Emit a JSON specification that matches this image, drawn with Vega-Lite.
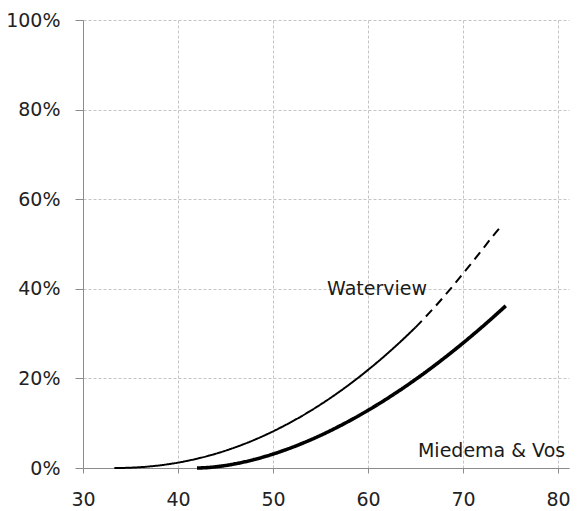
{
  "$schema": "https://vega.github.io/schema/vega-lite/v6.json",
  "autosize": {"type": "none"},
  "padding": {"left": 83, "top": 20, "right": 9, "bottom": 43},
  "width": 486,
  "height": 448,
  "background": "white",
  "config": {
    "view": {"stroke": null},
    "font": "DejaVu Sans"
  },
  "datasets": {
    "curves": [
      {"series": "Waterview", "segment": "solid", "x": 33.3, "y": 0},
      {"series": "Waterview", "segment": "solid", "x": 34, "y": 0.01},
      {"series": "Waterview", "segment": "solid", "x": 35, "y": 0.07},
      {"series": "Waterview", "segment": "solid", "x": 36, "y": 0.18},
      {"series": "Waterview", "segment": "solid", "x": 37, "y": 0.35},
      {"series": "Waterview", "segment": "solid", "x": 38, "y": 0.57},
      {"series": "Waterview", "segment": "solid", "x": 39, "y": 0.86},
      {"series": "Waterview", "segment": "solid", "x": 40, "y": 1.2},
      {"series": "Waterview", "segment": "solid", "x": 41, "y": 1.61},
      {"series": "Waterview", "segment": "solid", "x": 42, "y": 2.08},
      {"series": "Waterview", "segment": "solid", "x": 43, "y": 2.61},
      {"series": "Waterview", "segment": "solid", "x": 44, "y": 3.21},
      {"series": "Waterview", "segment": "solid", "x": 45, "y": 3.87},
      {"series": "Waterview", "segment": "solid", "x": 46, "y": 4.6},
      {"series": "Waterview", "segment": "solid", "x": 47, "y": 5.39},
      {"series": "Waterview", "segment": "solid", "x": 48, "y": 6.25},
      {"series": "Waterview", "segment": "solid", "x": 49, "y": 7.18},
      {"series": "Waterview", "segment": "solid", "x": 50, "y": 8.17},
      {"series": "Waterview", "segment": "solid", "x": 51, "y": 9.24},
      {"series": "Waterview", "segment": "solid", "x": 52, "y": 10.37},
      {"series": "Waterview", "segment": "solid", "x": 53, "y": 11.56},
      {"series": "Waterview", "segment": "solid", "x": 54, "y": 12.83},
      {"series": "Waterview", "segment": "solid", "x": 55, "y": 14.17},
      {"series": "Waterview", "segment": "solid", "x": 56, "y": 15.57},
      {"series": "Waterview", "segment": "solid", "x": 57, "y": 17.05},
      {"series": "Waterview", "segment": "solid", "x": 58, "y": 18.59},
      {"series": "Waterview", "segment": "solid", "x": 59, "y": 20.21},
      {"series": "Waterview", "segment": "solid", "x": 60, "y": 21.9},
      {"series": "Waterview", "segment": "solid", "x": 61, "y": 23.65},
      {"series": "Waterview", "segment": "solid", "x": 62, "y": 25.48},
      {"series": "Waterview", "segment": "solid", "x": 63, "y": 27.38},
      {"series": "Waterview", "segment": "solid", "x": 64, "y": 29.36},
      {"series": "Waterview", "segment": "solid", "x": 65, "y": 31.4},
      {"series": "Waterview", "segment": "dashed", "x": 65, "y": 31.4},
      {"series": "Waterview", "segment": "dashed", "x": 66, "y": 33.6},
      {"series": "Waterview", "segment": "dashed", "x": 67, "y": 35.9},
      {"series": "Waterview", "segment": "dashed", "x": 68, "y": 38.3},
      {"series": "Waterview", "segment": "dashed", "x": 69, "y": 40.8},
      {"series": "Waterview", "segment": "dashed", "x": 70, "y": 43.4},
      {"series": "Waterview", "segment": "dashed", "x": 71, "y": 46.0},
      {"series": "Waterview", "segment": "dashed", "x": 72, "y": 48.7},
      {"series": "Waterview", "segment": "dashed", "x": 73, "y": 51.4},
      {"series": "Waterview", "segment": "dashed", "x": 74.1, "y": 54.2},
      {"series": "Miedema & Vos", "segment": "solid", "x": 42, "y": 0},
      {"series": "Miedema & Vos", "segment": "solid", "x": 43, "y": 0.08},
      {"series": "Miedema & Vos", "segment": "solid", "x": 44, "y": 0.28},
      {"series": "Miedema & Vos", "segment": "solid", "x": 45, "y": 0.56},
      {"series": "Miedema & Vos", "segment": "solid", "x": 46, "y": 0.93},
      {"series": "Miedema & Vos", "segment": "solid", "x": 47, "y": 1.37},
      {"series": "Miedema & Vos", "segment": "solid", "x": 48, "y": 1.88},
      {"series": "Miedema & Vos", "segment": "solid", "x": 49, "y": 2.47},
      {"series": "Miedema & Vos", "segment": "solid", "x": 50, "y": 3.11},
      {"series": "Miedema & Vos", "segment": "solid", "x": 51, "y": 3.83},
      {"series": "Miedema & Vos", "segment": "solid", "x": 52, "y": 4.6},
      {"series": "Miedema & Vos", "segment": "solid", "x": 53, "y": 5.44},
      {"series": "Miedema & Vos", "segment": "solid", "x": 54, "y": 6.33},
      {"series": "Miedema & Vos", "segment": "solid", "x": 55, "y": 7.28},
      {"series": "Miedema & Vos", "segment": "solid", "x": 56, "y": 8.29},
      {"series": "Miedema & Vos", "segment": "solid", "x": 57, "y": 9.36},
      {"series": "Miedema & Vos", "segment": "solid", "x": 58, "y": 10.48},
      {"series": "Miedema & Vos", "segment": "solid", "x": 59, "y": 11.65},
      {"series": "Miedema & Vos", "segment": "solid", "x": 60, "y": 12.88},
      {"series": "Miedema & Vos", "segment": "solid", "x": 61, "y": 14.15},
      {"series": "Miedema & Vos", "segment": "solid", "x": 62, "y": 15.48},
      {"series": "Miedema & Vos", "segment": "solid", "x": 63, "y": 16.86},
      {"series": "Miedema & Vos", "segment": "solid", "x": 64, "y": 18.29},
      {"series": "Miedema & Vos", "segment": "solid", "x": 65, "y": 19.78},
      {"series": "Miedema & Vos", "segment": "solid", "x": 66, "y": 21.3},
      {"series": "Miedema & Vos", "segment": "solid", "x": 67, "y": 22.88},
      {"series": "Miedema & Vos", "segment": "solid", "x": 68, "y": 24.51},
      {"series": "Miedema & Vos", "segment": "solid", "x": 69, "y": 26.18},
      {"series": "Miedema & Vos", "segment": "solid", "x": 70, "y": 27.9},
      {"series": "Miedema & Vos", "segment": "solid", "x": 71, "y": 29.67},
      {"series": "Miedema & Vos", "segment": "solid", "x": 72, "y": 31.48},
      {"series": "Miedema & Vos", "segment": "solid", "x": 73, "y": 33.34},
      {"series": "Miedema & Vos", "segment": "solid", "x": 74, "y": 35.25},
      {"series": "Miedema & Vos", "segment": "solid", "x": 74.5, "y": 36.2}
    ],
    "labels": [
      {"name": "Waterview", "x": 60.95, "y": 38.6},
      {"name": "Miedema & Vos", "x": 73.0, "y": 2.45}
    ]
  },
  "layer": [
    {
      "data": {"name": "curves"},
      "mark": {"type": "line", "color": "black", "strokeCap": "butt", "interpolate": "monotone"},
      "encoding": {
        "x": {
          "field": "x",
          "type": "quantitative",
          "scale": {"domain": [30, 81.15], "nice": false, "zero": false},
          "axis": {
            "title": null,
            "values": [30, 40, 50, 60, 70, 80],
            "grid": true,
            "gridColor": "#c4c4c4",
            "gridDash": [3, 2],
            "gridWidth": 1,
            "domainColor": "#8c8c8c",
            "domainWidth": 1,
            "tickColor": "#8c8c8c",
            "tickSize": 5,
            "labelPadding": 17,
            "labelFont": "DejaVu Sans",
            "labelFontSize": 19,
            "labelColor": "#222222",
            "labelFlush": false
          }
        },
        "y": {
          "field": "y",
          "type": "quantitative",
          "scale": {"domain": [0, 100], "nice": false},
          "axis": {
            "title": null,
            "values": [0, 20, 40, 60, 80, 100],
            "labelExpr": "datum.value + '%'",
            "grid": true,
            "gridColor": "#c4c4c4",
            "gridDash": [3, 2],
            "gridWidth": 1,
            "domainColor": "#8c8c8c",
            "domainWidth": 1,
            "tickColor": "#8c8c8c",
            "tickSize": 8,
            "labelPadding": 15,
            "labelFont": "DejaVu Sans",
            "labelFontSize": 19,
            "labelColor": "#222222",
            "labelFlush": false
          }
        },
        "strokeWidth": {
          "field": "series",
          "type": "nominal",
          "scale": {"domain": ["Waterview", "Miedema & Vos"], "range": [2, 3.6]},
          "legend": null
        },
        "strokeDash": {
          "field": "segment",
          "type": "nominal",
          "scale": {"domain": ["solid", "dashed"], "range": [[1, 0], [9, 6]]},
          "legend": null
        }
      }
    },
    {
      "data": {"name": "labels"},
      "mark": {
        "type": "text",
        "font": "DejaVu Sans",
        "fontSize": 19,
        "color": "#1a1a1a",
        "align": "center",
        "baseline": "alphabetic"
      },
      "encoding": {
        "x": {"field": "x", "type": "quantitative"},
        "y": {"field": "y", "type": "quantitative"},
        "text": {"field": "name", "type": "nominal"}
      }
    }
  ]
}
